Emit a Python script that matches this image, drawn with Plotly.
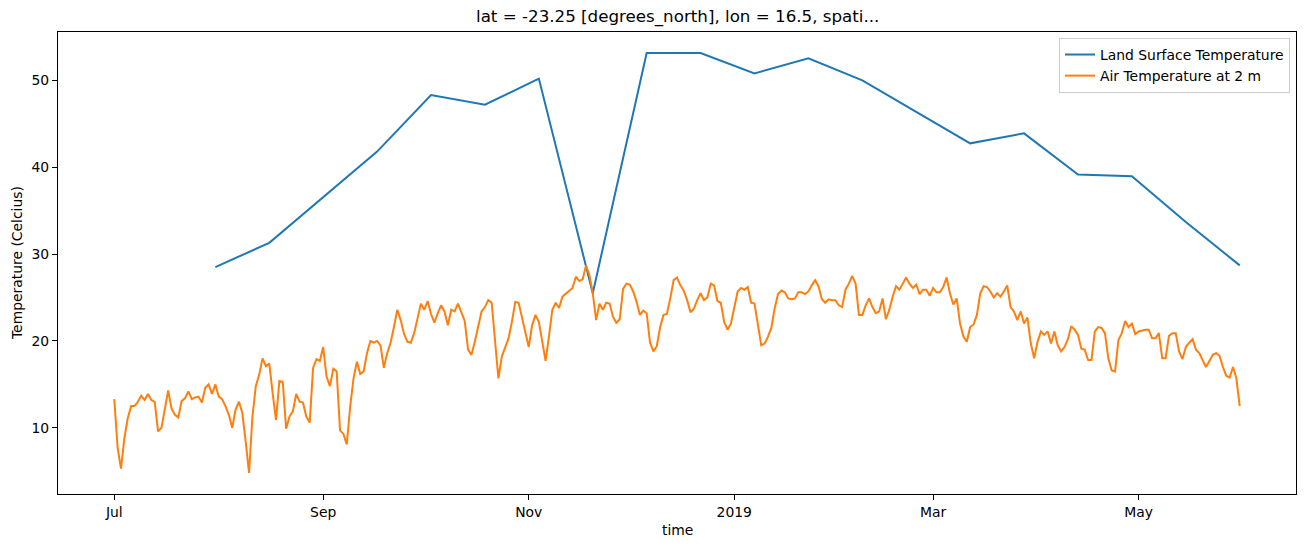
import pandas as pd
import plotly.graph_objects as go

# ---- data ----
air_start = "2018-07-01"
air_temp = [
    13.3, 7.7, 5.3, 8.8, 11.1, 12.5, 12.5, 13.0, 13.7, 13.2, 13.9, 13.2, 13.0, 9.6, 10.0, 12.3, 14.3, 12.2, 11.5, 11.2,
    13.1, 13.4, 14.2, 13.3, 13.5, 13.6, 12.9, 14.6, 15.0, 13.9, 15.0, 13.6, 13.3, 12.5, 11.5, 10.0, 12.1, 13.0, 11.7, 8.4,
    4.8, 11.3, 14.8, 16.1, 18.0, 17.1, 17.4, 14.0, 10.9, 15.4, 15.3, 9.9, 11.3, 11.9, 13.9, 13.0, 12.9, 11.3, 10.6, 16.9,
    17.9, 17.7, 19.3, 15.9, 14.8, 16.8, 16.5, 9.7, 9.3, 8.1, 12.4, 15.7, 17.6, 16.2, 16.5, 18.6, 20.0, 19.8, 20.0, 19.5,
    16.9, 18.6, 19.8, 21.6, 23.6, 22.4, 20.8, 19.9, 19.8, 20.9, 22.6, 24.3, 23.6, 24.6, 23.1, 22.1, 23.2, 24.1, 23.4, 21.8,
    23.6, 23.4, 24.3, 23.4, 22.3, 19.0, 18.4, 19.9, 21.6, 23.4, 23.9, 24.7, 24.4, 20.1, 15.7, 18.2, 19.2, 20.3, 22.2, 24.5,
    24.4, 22.6, 20.7, 19.3, 21.8, 23.0, 22.2, 19.7, 17.7, 20.5, 23.6, 24.4, 23.8, 25.1, 25.4, 25.7, 26.1, 27.4, 26.9, 27.1,
    28.7, 27.6, 25.5, 22.4, 24.3, 23.6, 24.4, 24.3, 22.8, 22.1, 22.5, 26.0, 26.6, 26.5, 25.7, 24.5, 23.0, 23.5, 23.2, 19.8,
    18.8, 19.4, 21.6, 23.0, 23.1, 24.9, 27.0, 27.3, 26.4, 25.8, 24.7, 23.3, 23.7, 24.7, 25.5, 24.7, 25.0, 26.6, 26.4, 24.6,
    24.4, 22.2, 21.3, 22.0, 23.9, 25.7, 26.1, 25.9, 26.2, 24.4, 24.3, 22.0, 19.5, 19.7, 20.5, 21.5, 23.8, 25.4, 25.8, 25.6,
    24.9, 24.8, 24.9, 25.6, 25.6, 25.4, 25.7, 26.4, 27.0, 26.3, 24.8, 24.4, 24.8, 24.7, 24.7, 24.1, 23.9, 25.9, 26.6, 27.5,
    26.6, 23.0, 23.0, 24.1, 24.9, 23.9, 23.2, 23.4, 24.9, 22.5, 23.6, 25.1, 26.3, 25.9, 26.6, 27.3, 26.6, 26.1, 26.5, 25.4,
    25.9, 25.9, 25.2, 26.1, 25.6, 25.6, 26.2, 27.3, 25.5, 24.2, 24.9, 22.0, 20.5, 19.9, 21.6, 21.9, 23.0, 25.5, 26.3, 26.2,
    25.7, 25.0, 25.5, 25.1, 25.7, 26.4, 23.9, 23.4, 22.4, 23.4, 22.0, 22.7, 19.7, 18.0, 19.9, 21.1, 20.7, 21.1, 19.7, 21.1,
    19.5, 18.8, 19.3, 20.2, 21.7, 21.3, 20.7, 19.1, 19.0, 17.8, 17.8, 21.1, 21.6, 21.5, 20.9, 18.0, 16.6, 16.5, 20.1, 20.9,
    22.3, 21.6, 22.0, 20.8, 21.1, 21.2, 21.3, 21.3, 20.3, 20.3, 20.9, 18.0, 18.0, 20.6, 20.9, 20.9, 18.8, 17.9, 19.3, 19.8,
    20.2, 19.0, 18.6, 17.8, 17.0, 17.7, 18.4, 18.6, 18.3, 17.0, 16.0, 15.8, 17.0, 15.7, 12.5,
]
air_dates = pd.date_range(air_start, periods=len(air_temp), freq="D")

lst_dates = pd.to_datetime([
    "2018-07-31", "2018-08-16", "2018-09-17", "2018-10-03", "2018-10-19", "2018-11-04",
    "2018-11-20", "2018-12-06", "2018-12-22", "2019-01-07", "2019-01-23", "2019-02-08",
    "2019-03-12", "2019-03-28", "2019-04-13", "2019-04-29", "2019-05-15", "2019-05-31",
])
lst_temp = [28.5, 31.3, 41.8, 48.3, 47.2, 50.2, 25.5, 53.15, 53.15, 50.8, 52.55, 50.0,
            42.75, 43.9, 39.15, 38.95, 33.7, 28.7]

tick_vals = ["2018-07-01", "2018-09-01", "2018-11-01", "2019-01-01", "2019-03-01", "2019-05-01"]
tick_text = ["Jul", "Sep", "Nov", "2019", "Mar", "May"]
y_ticks = [10, 20, 30, 40, 50]

title_text = "lat = -23.25 [degrees_north], lon = 16.5, spati..."

# ---- ranges with matplotlib-like 5% margins ----
xmin = min(air_dates.min(), lst_dates.min())
xmax = max(air_dates.max(), lst_dates.max())
xpad = (xmax - xmin) * 0.05
allv = list(air_temp) + list(lst_temp)
ymin, ymax = min(allv), max(allv)
ypad = (ymax - ymin) * 0.05

FONT = "DejaVu Sans"
W, H = 1306, 547
ML, MR, MT, MB = 58, 10, 32, 53
PW, PH = W - ML - MR, H - MT - MB

fig = go.Figure()
fig.add_trace(go.Scatter(x=lst_dates, y=lst_temp, mode="lines",
                         name="Land Surface Temperature",
                         line=dict(color="#1f77b4", width=2)))
fig.add_trace(go.Scatter(x=air_dates, y=air_temp, mode="lines",
                         name="Air Temperature at 2 m",
                         line=dict(color="#ff7f0e", width=2)))

axis_common = dict(showline=True, linecolor="black", linewidth=1, mirror=True,
                   ticks="outside", ticklen=5, tickwidth=1, tickcolor="black",
                   showgrid=False, zeroline=False,
                   tickfont=dict(family=FONT, size=13.9, color="black"))

fig.update_xaxes(range=[xmin - xpad, xmax + xpad], tickmode="array",
                 tickvals=tick_vals, ticktext=tick_text, **axis_common)
fig.update_yaxes(range=[ymin - ypad, ymax + ypad], tickmode="array",
                 tickvals=y_ticks, ticktext=[str(v) for v in y_ticks], **axis_common)

fig.update_layout(
    width=W, height=H, autosize=False,
    margin=dict(l=ML, r=MR, t=MT, b=MB, pad=0),
    plot_bgcolor="white", paper_bgcolor="white",
    font=dict(family=FONT, size=13.9, color="black"),
    showlegend=True,
    legend=dict(x=1 - 6 / PW, y=1 - 6 / PH, xanchor="right", yanchor="top",
                bgcolor="rgba(255,255,255,0.8)", bordercolor="#cccccc", borderwidth=1,
                font=dict(family=FONT, size=13.9, color="black"),
                tracegroupgap=0),
    annotations=[
        dict(text=title_text, xref="paper", yref="paper", x=0.5, y=1 + 15 / PH,
             xanchor="center", yanchor="middle", showarrow=False,
             font=dict(family=FONT, size=16.7, color="black")),
        dict(text="time", xref="paper", yref="paper", x=0.5, y=-36 / PH,
             xanchor="center", yanchor="middle", showarrow=False,
             font=dict(family=FONT, size=13.9, color="black")),
        dict(text="Temperature (Celcius)", xref="paper", yref="paper", x=-41 / PW, y=0.5,
             xanchor="center", yanchor="middle", textangle=-90, showarrow=False,
             font=dict(family=FONT, size=13.9, color="black")),
    ],
)

fig.write_html("out.html",
               config={"displayModeBar": False},
               post_script="document.body.style.margin='0';document.body.style.overflow='hidden';")
